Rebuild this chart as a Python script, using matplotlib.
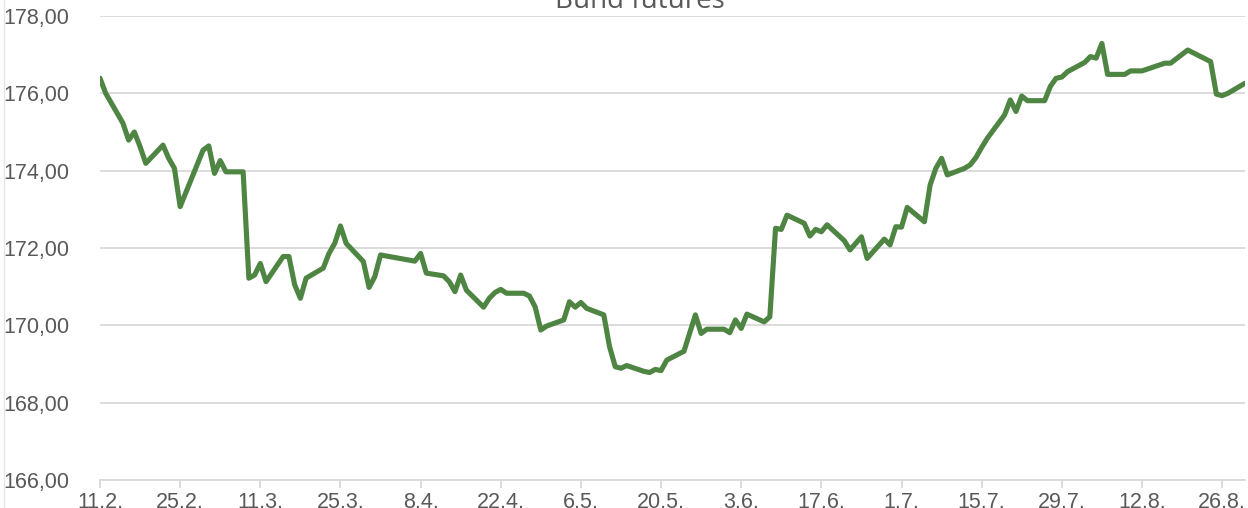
import matplotlib
matplotlib.use("Agg")
import matplotlib.pyplot as plt
import matplotlib.dates as mdates
from matplotlib.lines import Line2D
import pandas as pd

title = "Bund futures"

dates = [
    "2021-02-11", "2021-02-12", "2021-02-15", "2021-02-16", "2021-02-17", "2021-02-18", "2021-02-19",
    "2021-02-22", "2021-02-23", "2021-02-24", "2021-02-25",
    "2021-03-01", "2021-03-02", "2021-03-03", "2021-03-04", "2021-03-05",
    "2021-03-08", "2021-03-09", "2021-03-10", "2021-03-11", "2021-03-12",
    "2021-03-15", "2021-03-16", "2021-03-17", "2021-03-18", "2021-03-19",
    "2021-03-22", "2021-03-23", "2021-03-24", "2021-03-25", "2021-03-26",
    "2021-03-29", "2021-03-30", "2021-03-31", "2021-04-01",
    "2021-04-07", "2021-04-08", "2021-04-09",
    "2021-04-12", "2021-04-13", "2021-04-14", "2021-04-15", "2021-04-16",
    "2021-04-19", "2021-04-20", "2021-04-21", "2021-04-22", "2021-04-23",
    "2021-04-26", "2021-04-27", "2021-04-28", "2021-04-29", "2021-04-30",
    "2021-05-03", "2021-05-04", "2021-05-05", "2021-05-06", "2021-05-07",
    "2021-05-10", "2021-05-11", "2021-05-12", "2021-05-13", "2021-05-14",
    "2021-05-17", "2021-05-18", "2021-05-19", "2021-05-20", "2021-05-21",
    "2021-05-24", "2021-05-25", "2021-05-26", "2021-05-27", "2021-05-28",
    "2021-05-31", "2021-06-01", "2021-06-02", "2021-06-03", "2021-06-04",
    "2021-06-07", "2021-06-08", "2021-06-09", "2021-06-10", "2021-06-11",
    "2021-06-14", "2021-06-15", "2021-06-16", "2021-06-17", "2021-06-18",
    "2021-06-21", "2021-06-22", "2021-06-23", "2021-06-24", "2021-06-25",
    "2021-06-28", "2021-06-29", "2021-06-30", "2021-07-01", "2021-07-02",
    "2021-07-05", "2021-07-06", "2021-07-07", "2021-07-08", "2021-07-09",
    "2021-07-12", "2021-07-13", "2021-07-14", "2021-07-15", "2021-07-16",
    "2021-07-19", "2021-07-20", "2021-07-21", "2021-07-22", "2021-07-23",
    "2021-07-26", "2021-07-27", "2021-07-28", "2021-07-29", "2021-07-30",
    "2021-08-02", "2021-08-03", "2021-08-04", "2021-08-05", "2021-08-06",
    "2021-08-09", "2021-08-10", "2021-08-12", "2021-08-13",
    "2021-08-16", "2021-08-17", "2021-08-20",
    "2021-08-24", "2021-08-25", "2021-08-26", "2021-08-27",
    "2021-08-30",
]

prices = [
    176.39, 176.00, 175.23, 174.79, 175.00, 174.62, 174.19,
    174.66, 174.32, 174.06, 173.07,
    174.53, 174.64, 173.93, 174.26, 173.97,
    173.97, 171.22, 171.30, 171.60, 171.13,
    171.78, 171.78, 171.05, 170.70, 171.22,
    171.48, 171.86, 172.12, 172.57, 172.12,
    171.65, 170.98, 171.26, 171.82,
    171.66, 171.86, 171.35,
    171.28, 171.13, 170.87, 171.30, 170.91,
    170.47, 170.70, 170.85, 170.93, 170.83,
    170.83, 170.76, 170.48, 169.88, 169.98,
    170.14, 170.61, 170.47, 170.59, 170.44,
    170.27, 169.45, 168.93, 168.89, 168.96,
    168.81, 168.78, 168.86, 168.83, 169.10,
    169.33, 169.80, 170.27, 169.79, 169.90,
    169.90, 169.81, 170.14, 169.92, 170.29,
    170.09, 170.22, 172.51, 172.48, 172.85,
    172.64, 172.31, 172.48, 172.42, 172.60,
    172.19, 171.95, 172.12, 172.29, 171.73,
    172.23, 172.08, 172.55, 172.54, 173.05,
    172.68, 173.63, 174.06, 174.32, 173.89,
    174.06, 174.15, 174.34, 174.60, 174.84,
    175.44, 175.83, 175.53, 175.93, 175.81,
    175.81, 176.18, 176.39, 176.42, 176.56,
    176.80, 176.95, 176.91, 177.29, 176.49,
    176.49, 176.58, 176.58, 176.63,
    176.78, 176.78, 177.12,
    176.82, 175.98, 175.94, 176.00,
    176.26,
]

x = pd.to_datetime(dates)

fig = plt.figure(figsize=(12.48, 5.08), dpi=100)
ax = fig.add_axes([100 / 1248, 28 / 508, 1145 / 1248, 464 / 508])

ax.plot(x, prices, color="#4e8542", linewidth=3.7, solid_joinstyle="round", solid_capstyle="round", zorder=3)

ax.set_ylim(166, 178)
ax.set_yticks([166, 168, 170, 172, 174, 176, 178])
ax.yaxis.set_major_formatter(plt.FuncFormatter(lambda v, p: f"{v:.2f}".replace(".", ",")))
ax.grid(axis="y", color="#d9d9d9", linewidth=1.3)
ax.set_axisbelow(True)

ax.set_xlim(pd.Timestamp("2021-02-11"), pd.Timestamp("2021-08-30"))
ax.set_xticks(pd.date_range("2021-02-11", "2021-08-26", freq="14D"))
ax.xaxis.set_major_formatter(plt.FuncFormatter(lambda v, p: f"{mdates.num2date(v).day}.{mdates.num2date(v).month}."))

for s in ["top", "right", "left"]:
    ax.spines[s].set_visible(False)
ax.spines["bottom"].set_color("#d9d9d9")
ax.spines["bottom"].set_linewidth(1.3)

ax.tick_params(axis="y", length=0, pad=22, labelsize=15.5, labelcolor="#595959")
ax.tick_params(axis="x", length=6, width=1.3, color="#d9d9d9", pad=3, labelsize=15.5, labelcolor="#595959")
for lab in ax.get_xticklabels() + ax.get_yticklabels():
    lab.set_fontfamily("Liberation Sans")

fig.text(640 / 1248, 1 - 8 / 508, title, ha="center", va="baseline", fontsize=20,
         color="#595959", fontfamily="Open Sans")

fig.add_artist(Line2D([4 / 1248, 4 / 1248], [0, 1], color="#e6e6e6", linewidth=1))

fig.savefig("out.png", dpi=100, facecolor="white")
